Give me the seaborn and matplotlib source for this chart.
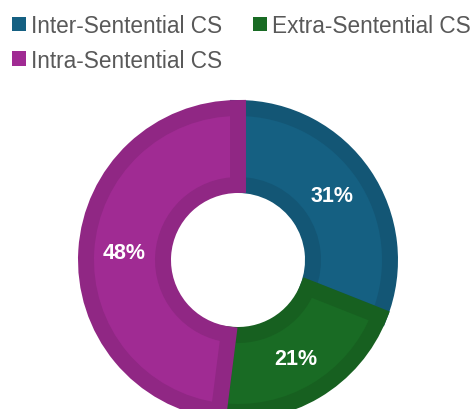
import matplotlib
matplotlib.use("Agg")
import matplotlib.pyplot as plt
import seaborn as sns
from matplotlib.patches import Patch
from matplotlib.colors import to_rgb

sns.set_theme(style="white")
plt.rcParams["font.family"] = ["Liberation Sans", "DejaVu Sans"]

# Share of code-switching types
categories = ["Inter-Sentential CS", "Extra-Sentential CS", "Intra-Sentential CS"]
shares = [31, 21, 48]
colors = ["#156082", "#196B24", "#A02B93"]

W, H = 475, 410


def darker(c, f=0.9):
    r, g, b = to_rgb(c)
    return (r * f, g * f, b * f)


fig = plt.figure(figsize=(W / 100, H / 100), dpi=100)
# Axes spanning the whole figure, one data unit per pixel
ax = fig.add_axes([0, 0, 1, 1])

wedges, texts = ax.pie(
    shares,
    colors=colors,
    startangle=90,
    counterclock=False,
    center=(238, H - 261),
    radius=152,
    wedgeprops=dict(width=77),
    labels=[f"{v}%" for v in shares],
    labeldistance=0.75,
    textprops=dict(color="white", fontsize=15.5, fontweight="bold", ha="center", va="center"),
    frame=True,
)

# Darker inner border on each wedge: a wide edge clipped to the wedge itself
for w, c in zip(wedges, colors):
    w.set_edgecolor(darker(c))
    w.set_linewidth(11.5)
    w.set_clip_path(w)

ax.set_xlim(0, W)
ax.set_ylim(0, H)
ax.set_aspect("auto")
ax.axis("off")

# Legend: row 1 Inter / Extra, row 2 Intra (matplotlib fills by column)
order = [0, 2, 1]
handles = [Patch(facecolor=colors[i], edgecolor="none") for i in order]
labels = [categories[i] for i in order]
leg = fig.legend(
    handles, labels,
    loc="upper left", bbox_to_anchor=(12 / W, 1 - 15 / H),
    ncol=2, frameon=False,
    fontsize=16.3, handlelength=0.62, handleheight=0.62,
    handletextpad=0.22, columnspacing=1.37, labelspacing=0.52,
    borderpad=0, borderaxespad=0,
)
for t in leg.get_texts():
    t.set_color("#595959")

fig.savefig("out.png", dpi=100)
